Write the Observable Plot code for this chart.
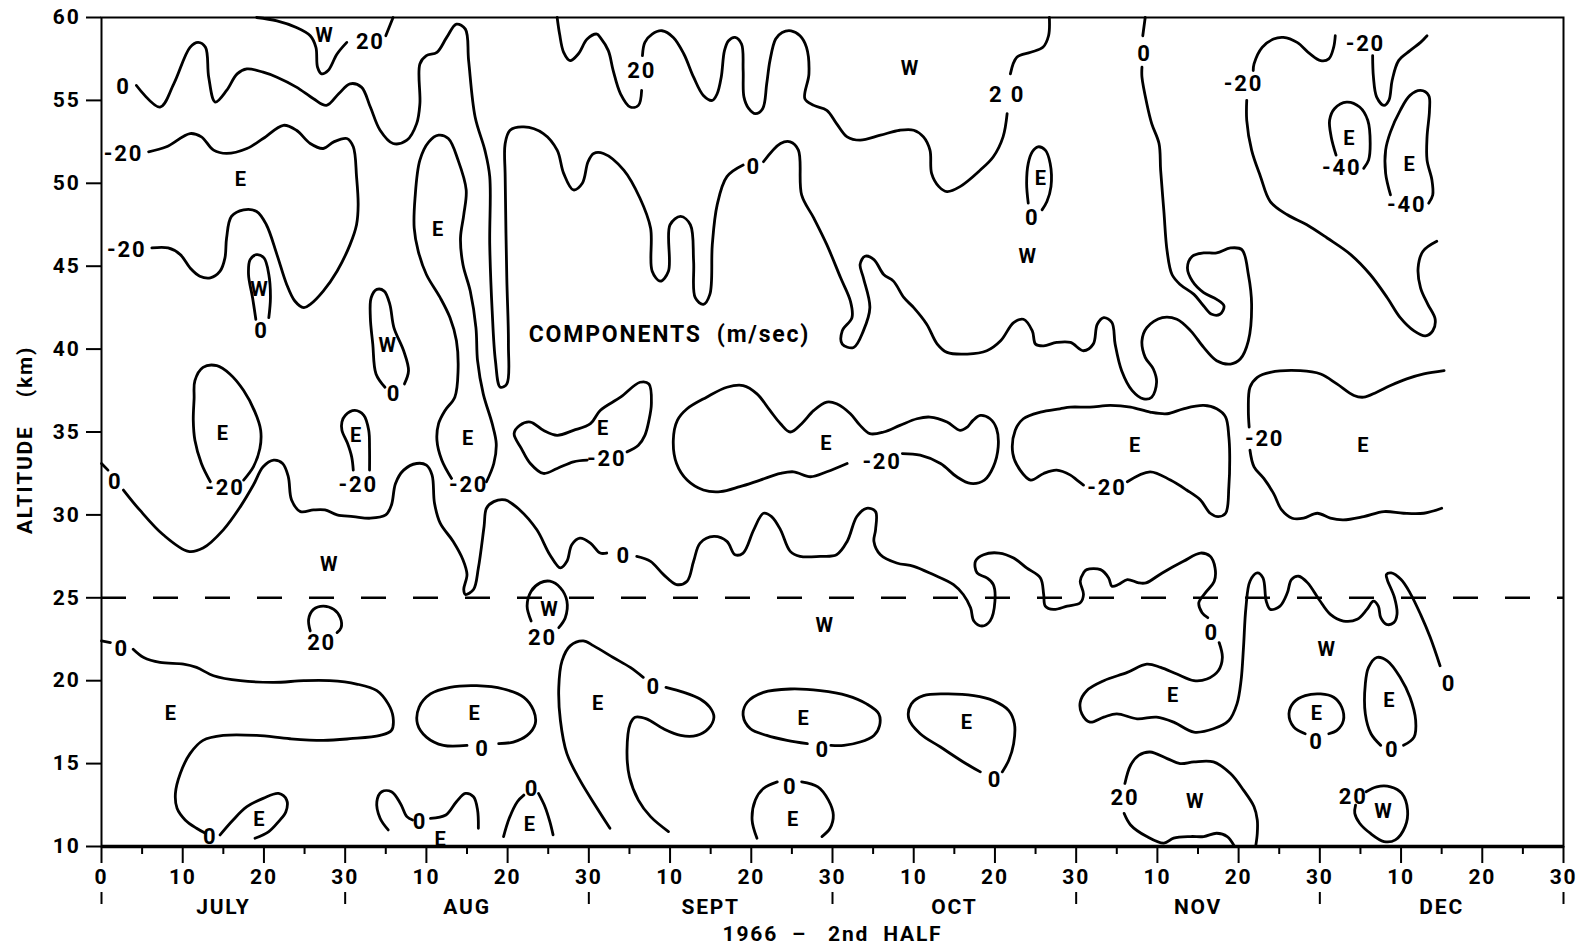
<!DOCTYPE html>
<html>
<head>
<meta charset="utf-8">
<script src="https://cdn.jsdelivr.net/npm/d3@7"></script>
<script src="https://cdn.jsdelivr.net/npm/@observablehq/plot@0.6"></script>
<style>
  html, body { margin: 0; padding: 0; background: #fff; }
  #chart svg text { letter-spacing: 1.8px; }
</style>
</head>
<body>
<div id="chart"></div>
<script>
// ---------- axis values ----------
const xTicks = [0,10,20,30,40,50,60,70,80,90,100,110,120,130,140,150,160,170,180];
const xTickLabels = ["0","10","20","30","10","20","30","10","20","30","10","20","30","10","20","30","10","20","30"];
const xMinorTicks = [5,15,25,35,45,55,65,75,85,95,105,115,125,135,145,155,165,175];
const monthEdges = [0,30,60,90,120,150,180];
const monthMid = [15,45,75,105,135,165];
const monthNames = ["JULY","AUG","SEPT","OCT","NOV","DEC"];
const yTicks = [10,15,20,25,30,35,40,45,50,55,60];
const xTitle = "1966\u00a0\u00a0\u2013\u00a0\u00a0\u00a02nd\u00a0\u00a0HALF";
const yTitle = "ALTITUDE\u00a0\u00a0\u00a0\u00a0(km)";
const refLevel = [25];

// ---------- contour lines: [day since 1 July, altitude km] ----------
const c0_upper_a = [[4.3,55.9],[7.2,54.6],[8.9,56.0],[10.9,58.2],[11.9,58.5],[12.8,58.2],[13.2,56.4],[14.0,54.9],[15.4,55.6],[16.7,56.6],[17.9,56.9],[19.9,56.7],[21.6,56.4],[24.0,55.8],[26.1,55.1],[27.7,54.7],[29.2,55.4],[30.6,56.0],[32.0,55.8],[33.1,54.6],[34.3,53.2],[35.9,52.4],[37.6,52.6],[38.8,53.6],[39.2,54.8],[39.2,57.2],[40.0,57.7],[41.3,57.9],[42.5,58.8],[43.7,59.6],[44.8,59.3],[45.2,57.4],[46.0,54.0],[47.2,52.0],[47.8,50.4],[47.8,46.3],[48.1,42.3],[48.5,39.3],[49.1,37.7],[49.9,37.9],[50.1,40.3],[49.9,44.3],[49.7,50.4],[49.7,52.4],[50.3,53.2],[52.0,53.4],[54.4,53.0],[56.1,52.0],[56.9,50.6],[58.1,49.6],[59.2,50.0],[59.9,51.3],[60.6,51.8],[61.8,51.8],[64.3,50.8],[66.3,49.1],[67.6,47.3],[67.8,44.7],[68.8,44.1],[69.8,44.7],[70.0,47.5],[71.3,48.0],[72.5,47.5],[72.9,45.3],[73.1,43.1],[74.1,42.7],[74.9,43.3],[75.2,46.3],[75.8,48.7],[77.0,50.4],[79.0,51.1]];
const c0_upper_b = [[81.5,51.3],[83.6,52.4],[84.8,52.5],[85.8,52.0],[86.2,49.3],[87.7,47.9],[89.3,46.3],[91.0,44.3],[92.2,42.9],[92.4,41.9],[91.2,41.1],[91.2,40.3],[92.6,40.1],[93.8,41.1],[94.6,42.5],[93.8,44.3],[93.4,45.1],[94.0,45.6],[95.1,45.4],[96.3,44.5],[97.5,44.1],[98.8,43.1],[100.0,42.5],[101.6,41.5],[102.9,40.3],[104.1,39.8],[106.6,39.7],[109.0,39.9],[110.7,40.5],[112.3,41.6],[113.5,41.8],[114.6,41.1],[115.0,40.3],[116.0,40.2],[117.6,40.4],[119.3,40.4],[120.9,39.9],[122.1,40.3],[122.6,41.5],[123.4,41.9],[124.4,41.6],[124.8,40.3],[125.6,38.7],[126.9,37.5],[128.3,37.0],[129.3,37.1],[129.9,38.0],[129.5,38.8],[128.5,39.5],[128.1,40.5],[128.7,41.3],[130.6,41.9],[132.4,41.8],[134.1,41.1],[135.7,40.1],[137.3,39.3],[139.0,39.1],[140.2,39.4],[141.2,40.5],[141.6,42.7],[141.2,44.5],[140.4,46.0],[139.0,46.1],[137.3,45.8],[135.7,45.8],[134.3,45.6],[133.7,44.9],[134.3,44.1],[135.7,43.4],[137.3,43.0],[138.2,42.6],[137.7,42.1],[136.7,42.1],[135.7,42.6],[134.5,43.3],[132.8,43.9],[131.8,44.5],[131.2,45.9],[130.8,48.3],[130.4,50.8],[130.2,52.4],[129.3,53.6],[128.7,54.8],[128.1,56.4],[128.1,57.0]];
const c0_upper_c = [[128.2,58.9],[128.5,60.0]];
const c20_top_a = [[19.1,60.0],[21.6,59.8],[24.0,59.4],[25.7,58.9],[26.4,58.2],[26.6,57.0],[27.1,56.6],[27.9,56.8],[29.0,57.8],[30.2,58.5]];
const c20_top_b = [[35.0,58.9],[35.9,60.0]];
const c20_mid_a = [[56.1,60.0],[56.4,59.0],[56.9,57.9],[57.7,57.4],[58.7,57.8],[59.8,58.7],[61.0,59.0],[61.4,58.8],[62.4,58.0],[63.0,56.8],[63.9,55.4],[65.1,54.6],[66.1,54.7],[66.5,55.6]];
const c20_mid_b = [[66.6,57.7],[66.9,58.5],[67.8,59.0],[69.0,59.2],[70.4,58.8],[71.7,57.8],[72.9,56.4],[74.1,55.3],[75.2,55.0],[75.8,55.4],[76.3,56.4],[76.7,58.0],[77.2,58.6],[78.0,58.8],[78.8,58.4],[79.0,56.8],[79.1,55.2],[79.7,54.5],[80.5,54.2],[81.4,54.5],[81.9,56.0],[82.3,57.4],[83.0,58.7],[83.8,59.1],[84.9,59.2],[86.0,58.9],[86.8,58.2],[87.1,56.6],[86.6,55.1],[87.7,54.7],[89.3,54.4],[90.5,53.6],[91.8,52.8],[93.4,52.6],[95.9,52.9],[98.3,53.2],[100.0,53.2],[101.2,52.8],[102.0,52.0],[102.2,50.6],[103.1,49.8],[104.1,49.5],[105.7,49.8],[108.2,50.8],[109.8,51.6],[111.0,52.8],[111.5,54.2]];
const c20_mid_c = [[111.9,56.6],[112.7,57.6],[114.4,57.9],[115.9,58.2],[116.6,58.9],[116.7,60.0]];
const cm20_july = [[5.8,51.9],[8.0,52.2],[10.9,53.0],[12.3,52.8],[13.8,52.0],[15.4,51.8],[17.9,52.1],[19.9,52.7],[22.4,53.5],[24.0,53.2],[25.7,52.4],[27.3,52.1],[28.6,52.5],[30.2,52.7],[31.0,52.2],[31.4,50.4],[31.6,48.7],[31.4,47.5],[30.6,46.3],[29.0,44.7],[27.3,43.5],[25.7,42.7],[24.9,42.5],[23.8,42.9],[22.8,43.9],[21.6,45.7],[20.3,47.5],[19.1,48.3],[17.5,48.4],[16.0,48.0],[15.4,46.7],[15.2,45.5],[14.6,44.7],[13.4,44.3],[12.1,44.4],[10.9,44.9],[9.7,45.7],[8.2,46.1],[6.2,46.1]];
const cW_1 = [[19.0,41.8],[18.6,43.1],[18.1,44.5],[18.3,45.4],[19.1,45.7],[20.0,45.5],[20.6,44.5],[20.8,43.1],[20.6,41.9]];
const cW_2 = [[34.9,37.7],[33.8,38.5],[33.4,40.3],[33.1,41.9],[33.2,43.1],[33.9,43.6],[34.8,43.5],[35.5,42.7],[36.0,41.3],[37.2,39.9],[37.8,38.7],[37.3,37.9]];
const cE_tall = [[43.1,32.2],[41.9,33.3],[41.3,34.5],[41.5,35.5],[42.3,36.3],[43.5,37.1],[43.9,38.7],[43.7,40.5],[42.9,41.9],[41.7,43.1],[40.0,44.5],[39.0,45.9],[38.5,47.3],[38.6,49.1],[39.2,51.4],[40.3,52.5],[41.5,52.9],[42.7,52.7],[43.9,51.4],[44.9,49.6],[44.6,48.1],[44.2,46.7],[44.5,45.1],[45.4,43.5],[46.1,41.3],[46.3,39.3],[47.0,37.3],[48.1,35.5],[48.6,34.3],[48.3,33.1],[47.4,32.0]];
const c0_mid_a = [[0.0,33.1],[0.8,32.7]];
const c0_mid_b = [[2.7,31.5],[4.7,30.3],[7.6,28.8],[10.7,27.8],[12.5,28.0],[15.0,29.1],[17.1,30.5],[18.7,31.8],[19.9,32.9],[21.2,33.3],[22.3,33.1],[23.0,32.3],[23.4,30.9],[24.5,30.2],[26.1,30.3],[27.5,30.3],[29.0,30.0],[31.0,29.9],[33.1,29.8],[35.0,30.0],[35.7,30.6],[36.2,31.9],[37.2,32.7],[38.8,33.1],[40.0,33.0],[40.7,32.4],[41.0,30.7],[41.7,29.5],[43.3,28.4],[44.5,27.3],[45.0,26.4],[44.6,25.5],[44.8,25.2],[45.8,25.5],[46.4,26.8],[47.1,29.3],[47.4,30.4],[48.3,30.8],[49.7,30.9],[51.5,30.3],[53.6,29.1],[55.2,27.6],[56.5,26.8],[57.3,27.2],[57.9,28.2],[58.9,28.6],[60.2,28.3],[61.4,27.7],[62.2,27.7]];
const c0_mid_c = [[65.9,27.5],[67.6,27.2],[69.2,26.4],[70.8,25.8],[72.1,26.0],[72.9,27.2],[73.7,28.3],[75.4,28.7],[77.0,28.4],[78.0,27.6],[79.0,27.7],[80.3,29.1],[81.5,30.1],[82.5,29.9],[83.6,29.1],[84.8,27.8],[86.0,27.5],[88.5,27.5],[90.5,27.6],[91.8,28.4],[93.0,29.9],[94.2,30.4],[95.3,30.2],[95.3,29.1],[95.1,28.4],[95.9,27.6],[97.9,27.1],[100.0,26.9],[102.4,26.4],[104.9,25.8],[106.1,25.2],[107.0,24.4],[107.4,23.6],[108.4,23.3],[109.4,23.6],[110.0,24.8],[109.8,25.8],[109.0,26.2],[107.8,26.5],[107.6,27.2],[108.6,27.6],[110.5,27.7],[112.3,27.4],[113.9,26.8],[115.6,26.2],[116.0,25.2],[116.2,24.5],[117.2,24.3],[118.9,24.5],[120.5,24.7],[120.9,25.2],[120.5,26.0],[120.9,26.5],[121.3,26.7],[123.0,26.7],[124.0,26.2],[124.4,25.7],[125.2,25.8],[126.3,26.1],[127.7,25.9],[128.6,25.9],[130.6,26.5],[133.2,27.2],[135.3,27.7],[136.5,27.5],[137.1,26.8],[137.0,26.0],[135.9,25.3],[135.1,24.7],[135.5,24.1],[136.2,23.8]];
const c0_mid_d = [[137.6,22.3],[138.0,21.4],[137.5,20.6],[136.1,20.1],[134.5,20.0],[132.4,20.4],[130.4,20.8],[128.7,21.0],[126.3,20.5],[123.4,20.0],[121.3,19.4],[120.5,18.7],[120.7,18.0],[121.7,17.5],[123.4,17.8],[125.0,18.0],[127.5,17.7],[129.9,17.8],[132.0,17.5],[134.5,16.9],[136.9,17.1],[138.8,17.6],[139.8,18.6],[140.3,20.0],[140.6,22.0],[140.9,24.4],[141.4,26.0],[142.3,26.5],[143.0,26.2],[143.4,24.8],[143.9,24.3],[145.1,24.5],[146.0,25.3],[146.5,26.1],[147.4,26.3],[148.5,25.9],[149.9,24.9],[151.3,24.0],[152.9,23.6],[154.6,23.7],[155.8,24.3],[156.6,24.8],[157.2,24.5],[157.5,23.8],[158.2,23.4],[159.1,23.5],[159.5,24.0],[159.2,25.0],[158.3,26.1],[158.2,26.4],[158.8,26.5],[160.0,26.1],[161.1,25.3],[162.4,24.0],[163.6,22.6],[164.8,20.9]];
const cE_jul = [[13.4,32.0],[12.3,33.1],[11.5,34.5],[11.3,35.7],[11.4,37.0],[11.5,38.1],[12.5,38.9],[14.2,39.0],[15.8,38.5],[17.5,37.5],[18.9,36.2],[19.6,35.1],[19.5,34.0],[18.7,32.9],[17.5,32.1]];
const cE_aug1 = [[31.0,32.7],[30.8,33.5],[30.3,34.3],[29.6,35.1],[29.6,35.6],[30.0,36.0],[31.2,36.3],[32.3,36.0],[32.9,35.1],[33.0,34.0],[33.0,32.7]];
const cE_aug2 = [[64.7,33.8],[66.1,34.2],[66.9,34.8],[67.4,35.7],[67.7,36.7],[67.4,37.9],[66.3,38.0],[63.9,37.1],[61.4,36.3],[60.2,35.5],[58.1,35.1],[56.1,34.8],[54.4,35.1],[52.8,35.6],[51.5,35.4],[50.8,34.9],[51.7,34.0],[52.8,33.1],[54.4,32.5],[56.1,32.8],[58.1,33.2],[59.8,33.3]];
const cE_sep = [[98.6,33.7],[100.8,33.6],[103.3,33.1],[105.3,32.3],[107.0,31.9],[108.7,32.1],[109.8,32.9],[110.4,34.1],[110.2,35.2],[109.4,35.8],[108.2,36.0],[107.3,35.7],[106.6,35.3],[105.7,35.1],[104.1,35.6],[102.0,35.9],[100.4,35.8],[98.3,35.4],[96.3,35.0],[94.6,34.9],[93.4,35.4],[92.2,36.1],[90.5,36.7],[89.3,36.8],[87.7,36.3],[86.2,35.5],[84.8,35.0],[83.6,35.5],[82.3,36.3],[80.7,37.3],[79.0,37.8],[77.0,37.7],[74.5,37.1],[72.1,36.4],[70.9,35.7],[70.4,34.5],[70.8,33.1],[72.1,32.1],[74.1,31.5],[76.2,31.4],[78.6,31.7],[81.1,32.1],[83.6,32.5],[85.2,32.6],[87.3,32.3],[89.3,32.6],[91.8,33.1]];
const cE_nov = [[126.3,32.0],[129.1,32.6],[131.6,32.1],[133.6,31.5],[135.3,30.9],[136.5,30.1],[137.5,29.9],[138.4,30.1],[138.8,31.7],[138.9,33.7],[138.8,34.7],[138.4,35.9],[137.3,36.4],[135.7,36.6],[133.2,36.4],[131.2,36.1],[129.1,36.2],[126.7,36.5],[124.2,36.6],[121.7,36.5],[119.3,36.5],[118.0,36.4],[115.6,36.2],[113.5,35.8],[112.5,35.1],[112.2,33.7],[113.1,32.7],[114.4,32.1],[116.0,32.5],[117.6,32.7],[119.3,32.4],[120.1,32.1],[120.9,31.8]];
const cm20_dec_a = [[165.3,38.7],[162.8,38.5],[160.7,38.2],[158.7,37.8],[157.0,37.4],[155.4,37.1],[154.2,37.2],[152.1,37.9],[150.1,38.5],[147.6,38.7],[143.9,38.6],[142.3,38.3],[141.4,37.7],[141.2,36.3],[141.3,35.3]];
const cm20_dec_b = [[141.4,33.9],[141.9,32.9],[143.1,32.2],[144.3,31.3],[145.3,30.3],[146.6,29.8],[148.0,29.8],[149.7,30.1],[151.3,29.8],[152.9,29.7],[155.4,29.9],[157.9,30.2],[160.3,30.1],[162.8,30.1],[165.0,30.4]];
const cm20_nov_a = [[151.9,58.9],[151.7,58.2],[151.1,57.5],[150.1,57.4],[148.8,57.8],[147.2,58.5],[145.5,58.8],[144.3,58.7],[142.9,58.2],[141.9,57.2],[141.8,56.8]];
const cm20_nov_b = [[141.0,55.0],[141.0,53.8],[141.6,52.0],[142.7,50.4],[143.9,48.9],[146.0,48.1],[148.4,47.5],[150.9,46.7],[153.8,45.7],[156.2,44.5],[158.3,43.1],[159.9,41.9],[161.6,41.1],[163.0,40.8],[163.9,41.1],[164.2,41.8],[163.3,42.7],[162.4,43.7],[162.1,44.9],[162.7,45.9],[164.4,46.5]];
const cm20_dec_top = [[156.5,57.7],[156.6,56.4],[157.0,55.2],[157.9,54.7],[158.5,55.0],[158.9,56.2],[159.7,57.4],[161.1,58.0],[162.4,58.5],[163.2,58.9]];
const cm40_a = [[152.0,51.7],[151.4,52.8],[151.2,53.8],[151.8,54.5],[153.3,54.9],[154.9,54.6],[155.9,53.8],[156.2,52.4],[156.0,51.4],[155.4,50.9]];
const cm40_b = [[158.7,49.3],[158.1,50.6],[158.1,52.0],[158.7,53.1],[159.9,54.4],[161.1,55.3],[162.4,55.6],[163.4,55.3],[163.5,54.4],[163.2,52.8],[163.2,51.4],[163.8,50.2],[163.9,49.3],[163.4,48.8]];
const cE_oct_top = [[114.1,48.8],[113.9,50.0],[114.1,51.2],[114.6,51.9],[115.3,52.2],[116.2,52.0],[116.8,51.2],[116.9,49.8],[116.4,48.9],[115.8,48.4]];
const c20_low1 = [[25.7,23.0],[25.5,23.7],[26.1,24.3],[27.3,24.5],[28.6,24.3],[29.4,23.8],[29.5,23.2],[29.0,22.9]];
const c20_low2 = [[52.9,23.6],[52.4,24.5],[52.9,25.4],[54.0,25.9],[55.2,26.0],[56.5,25.6],[57.3,24.8],[57.1,23.8],[56.3,23.2]];
const c0_low_a = [[0.0,22.4],[1.1,22.3]];
const c0_low_b = [[3.9,21.9],[5.2,21.4],[7.2,21.1],[10.1,21.0],[11.7,20.8],[13.8,20.3],[17.1,20.0],[21.2,19.9],[24.9,20.0],[28.1,20.0],[31.4,19.8],[33.9,19.4],[35.3,18.6],[35.9,17.8],[35.7,17.0],[34.3,16.7],[30.6,16.5],[27.3,16.4],[23.2,16.5],[19.1,16.7],[15.0,16.7],[12.5,16.4],[10.9,15.6],[9.7,14.4],[9.1,13.2],[9.3,12.3],[10.3,11.6],[11.7,11.1],[12.8,10.8]];
const cE_low1 = [[14.6,10.7],[16.2,11.6],[17.9,12.4],[19.9,12.9],[21.8,13.2],[22.8,12.8],[22.7,12.1],[21.8,11.5],[20.6,10.9],[18.9,10.5]];
const c0_aug_a = [[35.3,11.0],[34.3,11.7],[33.9,12.7],[34.5,13.3],[35.7,13.3],[36.8,12.6],[37.6,11.8],[38.3,11.6]];
const c0_aug_b = [[40.5,11.7],[42.4,11.9],[43.7,12.7],[44.8,13.2],[45.8,13.0],[46.3,12.2],[46.4,11.1]];
const c0_aug_c = [[49.5,10.6],[50.2,11.7],[51.2,12.7],[52.0,13.1]];
const c0_aug_d = [[53.8,13.2],[54.6,12.4],[55.2,11.5],[55.6,10.7]];
const cE_aug_low = [[45.0,16.1],[42.1,16.1],[40.0,16.6],[38.9,17.4],[39.1,18.4],[40.5,19.2],[42.9,19.6],[46.2,19.7],[49.5,19.5],[52.0,19.0],[53.2,18.2],[53.4,17.4],[52.4,16.7],[50.7,16.3],[48.9,16.2]];
const c0_sep_a = [[62.6,11.1],[60.9,12.4],[58.9,14.0],[57.3,15.6],[56.5,17.6],[56.3,19.6],[56.7,21.2],[57.7,22.1],[59.3,22.4],[60.6,22.1],[63.0,21.4],[65.1,20.8],[66.7,20.2]];
const c0_sep_b = [[69.5,19.6],[71.7,19.3],[73.7,18.9],[74.9,18.4],[75.4,17.8],[74.7,17.1],[73.3,16.7],[71.3,16.7],[69.2,17.1],[67.1,17.7],[65.7,17.8],[65.1,17.4],[64.7,15.8],[65.0,14.2],[66.1,12.8],[67.6,11.8],[69.8,10.9]];
const cE_sep_low = [[86.9,16.2],[84.4,16.4],[81.9,16.7],[79.9,17.1],[79.0,17.9],[79.5,18.7],[81.5,19.3],[84.8,19.5],[88.5,19.4],[91.8,19.1],[94.2,18.6],[95.7,18.0],[95.8,17.3],[95.1,16.7],[93.4,16.3],[91.4,16.1],[89.8,16.1]];
const c0_sep_c = [[80.7,10.5],[80.1,11.6],[80.5,12.8],[81.5,13.5],[83.2,13.9]];
const c0_sep_d = [[86.2,13.9],[88.2,13.6],[89.5,12.8],[90.1,11.9],[89.7,11.1],[88.7,10.6]];
const cE_oct_low = [[108.2,14.5],[106.1,15.1],[103.3,16.0],[100.8,16.8],[99.4,17.7],[99.7,18.6],[101.2,19.1],[104.1,19.2],[107.4,19.1],[109.8,18.8],[111.7,18.2],[112.4,17.4],[112.3,16.2],[111.7,15.2],[110.9,14.5]];
const c20_nov_a = [[126.0,13.8],[126.7,14.9],[127.7,15.5],[129.1,15.7],[131.2,15.3],[132.8,15.0],[134.5,15.1],[136.9,15.1],[139.0,14.4],[140.6,13.4],[141.9,12.4],[142.3,11.6],[142.3,10.8],[142.1,10.0]];
const c20_nov_b = [[125.9,12.0],[126.7,11.3],[128.7,10.6],[130.8,10.2],[132.0,10.5],[134.1,10.6],[135.7,10.6],[137.3,10.8],[138.6,10.6],[139.5,10.0]];
const cE_dec1 = [[148.2,16.8],[146.8,17.2],[146.2,18.0],[146.8,18.7],[148.2,19.1],[150.1,19.2],[151.7,19.0],[152.7,18.4],[152.9,17.6],[152.1,17.0],[151.1,16.8]];
const cE_dec2 = [[157.5,16.1],[156.3,16.8],[155.6,18.0],[155.6,19.8],[156.0,20.8],[157.0,21.4],[158.3,21.2],[159.9,20.2],[161.1,19.0],[161.8,17.6],[161.6,16.6],[160.3,16.1]];
const c20_dec = [[155.7,13.3],[157.0,13.6],[158.7,13.6],[160.1,13.2],[160.8,12.2],[160.5,11.2],[159.3,10.4],[157.9,10.3],[156.2,10.8],[154.9,11.4],[154.3,12.0],[154.4,12.5]];

// ---------- contour value labels: [text, day, km] ----------
const contourLabels = [
  ["0",2.7,55.8],["-20",2.7,51.8],["-20",3.1,46.0],["20",33.1,58.5],["0",19.7,41.1],["0",36.0,37.3],
  ["20",66.5,56.8],["0",80.3,51.0],["2\u00a00",111.5,55.3],["0",114.6,47.9],["0",128.4,57.8],
  ["-20",140.6,56.0],["-20",155.6,58.4],["-40",152.7,50.9],["-40",160.7,48.7],
  ["0",1.7,32.0],["-20",15.2,31.6],["-20",31.6,31.8],["-20",45.2,31.8],["-20",62.2,33.4],
  ["-20",96.1,33.2],["-20",123.8,31.6],["-20",143.2,34.6],["0",64.3,27.5],
  ["20",27.1,22.3],["20",54.3,22.6],["0",2.5,21.9],["0",13.4,10.6],["0",39.2,11.5],["0",53.0,13.5],
  ["0",46.9,15.9],["0",68.0,19.6],["0",88.8,15.8],["0",84.8,13.6],["0",110.0,14.0],["0",136.7,22.9],
  ["0",165.9,19.8],["0",149.6,16.3],["0",158.9,15.8],["20",126.0,12.9],["20",154.1,13.0]
];
// ---------- wind direction letters: [day, km] ----------
const eastLetters = [[17.2,50.2],[41.5,47.2],[15.0,34.9],[31.4,34.8],[45.2,34.6],[61.8,35.2],[89.3,34.3],[127.3,34.2],[155.4,34.2],[115.7,50.3],[153.7,52.7],[161.1,51.1],[8.6,18.0],[19.5,11.6],[41.8,10.4],[52.8,11.3],[46.0,18.0],[61.2,18.6],[86.5,17.7],[85.2,11.6],[106.6,17.5],[132.0,19.1],[149.7,18.0],[158.6,18.8]];
const westLetters = [[27.5,58.9],[19.5,43.6],[35.3,40.2],[99.6,56.9],[114.1,45.6],[28.1,27.0],[55.2,24.3],[89.1,23.3],[150.9,21.9],[134.7,12.7],[157.9,12.1]];
const annotation = [["COMPONENTS\u00a0\u00a0(m/sec)", 52.6, 40.9]];

// ---------- build tables ----------
const contourList = [
  ["c0_upper_a",c0_upper_a],["c0_upper_b",c0_upper_b],["c0_upper_c",c0_upper_c],
  ["c20_top_a",c20_top_a],["c20_top_b",c20_top_b],["c20_mid_a",c20_mid_a],["c20_mid_b",c20_mid_b],["c20_mid_c",c20_mid_c],
  ["cm20_july",cm20_july],["cW_1",cW_1],["cW_2",cW_2],["cE_tall",cE_tall],
  ["c0_mid_a",c0_mid_a],["c0_mid_b",c0_mid_b],["c0_mid_c",c0_mid_c],["c0_mid_d",c0_mid_d],
  ["cE_jul",cE_jul],["cE_aug1",cE_aug1],["cE_aug2",cE_aug2],["cE_sep",cE_sep],["cE_nov",cE_nov],
  ["cm20_dec_a",cm20_dec_a],["cm20_dec_b",cm20_dec_b],["cm20_nov_a",cm20_nov_a],["cm20_nov_b",cm20_nov_b],
  ["cm20_dec_top",cm20_dec_top],["cm40_a",cm40_a],["cm40_b",cm40_b],["cE_oct_top",cE_oct_top],
  ["c20_low1",c20_low1],["c20_low2",c20_low2],["c0_low_a",c0_low_a],["c0_low_b",c0_low_b],["cE_low1",cE_low1],
  ["c0_aug_a",c0_aug_a],["c0_aug_b",c0_aug_b],["c0_aug_c",c0_aug_c],["c0_aug_d",c0_aug_d],["cE_aug_low",cE_aug_low],
  ["c0_sep_a",c0_sep_a],["c0_sep_b",c0_sep_b],["cE_sep_low",cE_sep_low],["c0_sep_c",c0_sep_c],["c0_sep_d",c0_sep_d],
  ["cE_oct_low",cE_oct_low],["c20_nov_a",c20_nov_a],["c20_nov_b",c20_nov_b],["cE_dec1",cE_dec1],["cE_dec2",cE_dec2],["c20_dec",c20_dec]
];
const rows = contourList.flatMap(([id, pts]) => pts.map(([day, km]) => ({id, day, km})));
const labelRows = contourLabels.map(([text, day, km]) => ({text, day, km}));
const letterRows = [
  ...eastLetters.map(([day, km]) => ({text: "E", day, km})),
  ...westLetters.map(([day, km]) => ({text: "W", day, km}))
];
const annRows = annotation.map(([text, day, km]) => ({text, day, km}));

const FONT = "Roboto, 'DejaVu Sans', sans-serif";
const W = 700;

const chart = Plot.plot({
  width: 1586,
  height: 951,
  marginLeft: 101,
  marginRight: 23,
  marginTop: 17,
  marginBottom: 105,
  style: {fontFamily: FONT, fontSize: "21px", fontWeight: W, color: "black", background: "white"},
  x: {domain: [0, 180], axis: null},
  y: {domain: [10, 60], axis: null},
  marks: [
    Plot.frame({stroke: "black", strokeWidth: 2}),
    Plot.ruleY([10], {stroke: "black", strokeWidth: 3.5}),
    Plot.ruleY(refLevel, {stroke: "black", strokeWidth: 2.5, strokeDasharray: "25,27"}),
    Plot.line(rows, {x: "day", y: "km", z: "id", curve: "catmull-rom", stroke: "black", strokeWidth: 2.8, strokeLinecap: "round", strokeLinejoin: "round"}),
    Plot.text(labelRows, {x: "day", y: "km", text: "text", fontSize: 22, fontWeight: W, fill: "black"}),
    Plot.text(letterRows, {x: "day", y: "km", text: "text", fontSize: 20, fontWeight: W, fill: "black"}),
    Plot.text(annRows, {x: "day", y: "km", text: "text", textAnchor: "start", fontSize: 23, fontWeight: W, fill: "black"}),
    Plot.axisY(yTicks, {anchor: "left", label: null, tickSize: 15, tickPadding: 6, strokeWidth: 2, fontSize: 21, fontWeight: W}),
    Plot.axisX(xTicks, {anchor: "bottom", label: null, tickSize: 17, tickPadding: 6, strokeWidth: 2, fontSize: 21, fontWeight: W,
      tickFormat: d => xTickLabels[xTicks.indexOf(d)]}),
    Plot.axisX(xMinorTicks, {anchor: "bottom", label: null, tickSize: 8, strokeWidth: 2, tickFormat: () => ""}),
    Plot.axisX(monthMid, {anchor: "bottom", label: null, tickSize: 0, tickPadding: 53, fontSize: 21, fontWeight: W,
      tickFormat: d => monthNames[monthMid.indexOf(d)]}),
    Plot.ruleX(monthEdges, {stroke: "black", strokeWidth: 2, insetTop: 875, insetBottom: -58}),
    Plot.text([xTitle], {frameAnchor: "bottom", dy: 94, fontSize: 21, fontWeight: W, fill: "black"}),
    Plot.text([yTitle], {frameAnchor: "left", textAnchor: "middle", dy: 8, dx: -76, rotate: -90, fontSize: 21, fontWeight: W, fill: "black"})
  ]
});
document.getElementById("chart").appendChild(chart);
</script>
</body>
</html>
